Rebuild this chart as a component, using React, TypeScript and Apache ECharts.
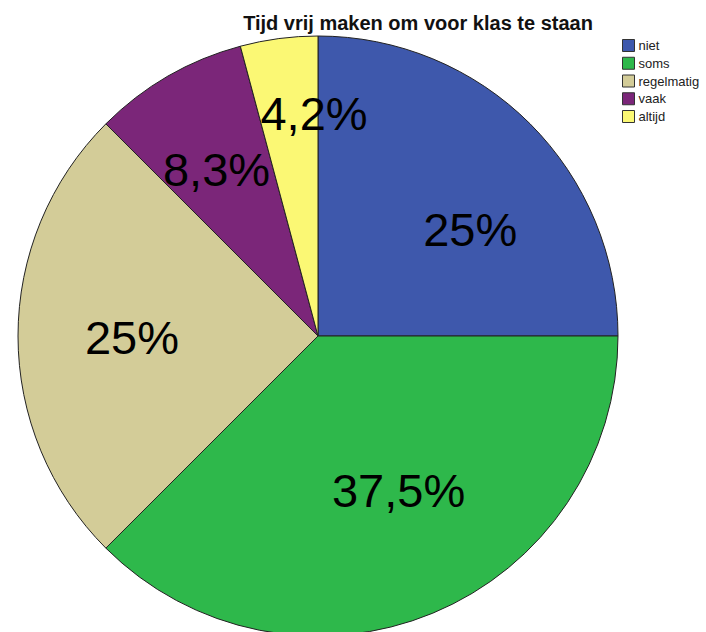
import React, { useEffect, useRef } from "react";
import * as echarts from "echarts";

const title = "Tijd vrij maken om voor klas te staan";
const categories = ["niet", "soms", "regelmatig", "vaak", "altijd"];
const counts = [6, 9, 6, 2, 1];
const colors = ["#3e58ac", "#2eb84b", "#d3cc98", "#7b2679", "#fbf874"];
// label nudges (style only) relative to the default inside position
const labelNudges: [number, number][] = [
  [44, 2],
  [22, 13],
  [-33, 1],
  [-25, -34],
  [16, -71],
];

export default function App() {
  const ref = useRef<HTMLDivElement>(null);
  useEffect(() => {
    if (!ref.current) return;
    const chart = echarts.init(ref.current, null, { renderer: "svg" });
    chart.setOption({
      animation: false,
      backgroundColor: "#ffffff",
      title: {
        text: title,
        left: 413,
        top: 8,
        textAlign: "center",
        textStyle: {
          fontFamily: "Liberation Sans, Arial, sans-serif",
          fontSize: 20,
          fontWeight: "bold",
          color: "#111",
        },
      },
      legend: {
        orient: "vertical",
        left: 617,
        top: 34,
        itemWidth: 12,
        itemHeight: 12,
        itemGap: 4.75,
        icon: "rect",
        data: categories,
        itemStyle: { borderColor: "#333", borderWidth: 1 },
        textStyle: {
          fontFamily: "Liberation Sans, Arial, sans-serif",
          fontSize: 13,
          lineHeight: 12,
          color: "#222",
          padding: [0, 0, 0, -1],
        },
      },
      series: [
        {
          type: "pie",
          center: [318, 336],
          radius: [0, 300],
          startAngle: 90,
          clockwise: true,
          percentPrecision: 1,
          avoidLabelOverlap: false,
          silent: true,
          itemStyle: { borderColor: "#222", borderWidth: 1 },
          label: {
            show: true,
            position: "inside",
            fontFamily: "Liberation Sans, Arial, sans-serif",
            fontSize: 47,
            color: "#000",
            formatter: (p: any) => String(p.percent).replace(".", ",") + "%",
          },
          labelLine: { show: false },
          labelLayout: (p: any) => {
            const n = labelNudges[p.dataIndex] || [0, 0];
            return { dx: n[0], dy: n[1] };
          },
          data: categories.map((c, i) => ({
            name: c,
            value: counts[i],
            itemStyle: { color: colors[i] },
          })),
        },
      ],
    });
    return () => chart.dispose();
  }, []);
  return (
    <div
      ref={ref}
      style={{ position: "absolute", left: 0, top: 0, width: 706, height: 632 }}
    />
  );
}
